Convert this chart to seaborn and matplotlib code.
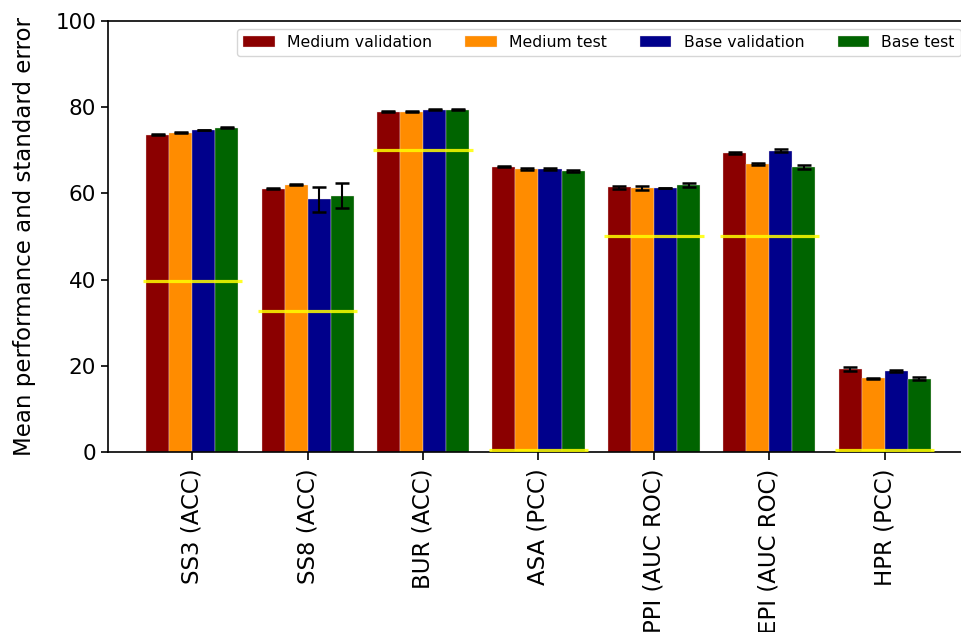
import matplotlib
matplotlib.use("Agg")
import matplotlib.pyplot as plt
import seaborn as sns
import pandas as pd
import numpy as np

tasks = ["SS3 (ACC)", "SS8 (ACC)", "BUR (ACC)", "ASA (PCC)",
         "PPI (AUC ROC)", "EPI (AUC ROC)", "HPR (PCC)"]
models = ["Medium validation", "Medium test", "Base validation", "Base test"]
colors = ["#8b0000", "#ff8c00", "#00008b", "#006400"]

medium_val = [73.6, 61.1, 79.0, 66.2, 61.4, 69.4, 19.3]
medium_test = [74.1, 62.0, 79.0, 65.7, 61.2, 66.8, 17.1]
base_val = [74.7, 58.6, 79.4, 65.7, 61.3, 69.9, 18.8]
base_test = [75.2, 59.4, 79.4, 65.2, 61.9, 66.2, 17.0]

medium_val_err = [0.1, 0.1, 0.1, 0.1, 0.3, 0.3, 0.4]
medium_test_err = [0.1, 0.1, 0.1, 0.3, 0.5, 0.2, 0.1]
base_val_err = [0.1, 2.9, 0.1, 0.3, 0.05, 0.3, 0.2]
base_test_err = [0.1, 2.9, 0.1, 0.3, 0.5, 0.5, 0.4]

baselines = [39.7, 32.8, 70.0, 0.4, 50.2, 50.2, 0.4]

values = [medium_val, medium_test, base_val, base_test]
errors = [medium_val_err, medium_test_err, base_val_err, base_test_err]

df = pd.DataFrame({
    "task": tasks * len(models),
    "model": [m for m in models for _ in tasks],
    "score": np.concatenate(values),
})

fig = plt.figure(figsize=(9.61, 6.32), dpi=100)
ax = fig.add_axes([108 / 961, 180 / 632, 861 / 961, 431 / 632])

sns.barplot(data=df, x="task", y="score", hue="model", order=tasks,
            hue_order=models, palette=colors, saturation=1, width=0.8,
            errorbar=None, edgecolor="#f0e0e0", linewidth=0.25, ax=ax)

# error bars on top of each bar
for cont, err in zip(ax.containers, errors):
    xs = [b.get_x() + b.get_width() / 2 for b in cont]
    hs = [b.get_height() for b in cont]
    ax.errorbar(xs, hs, yerr=err, fmt="none", ecolor="black",
                elinewidth=1.5, capsize=5, capthick=1.8, zorder=3)

# baseline (yellow) per task
pos = np.arange(len(tasks))
ax.hlines(baselines, pos - 0.43, pos + 0.43, colors="#ffff00",
          linewidth=2.3, alpha=0.85, zorder=4)

ax.set_xlim(-0.73, 6.73)
ax.set_ylim(0, 100)
ax.set_xlabel("")
ax.set_ylabel("Mean performance and standard error", fontsize=16.5,
              labelpad=14)
ax.tick_params(axis="both", labelsize=15.5, length=5, width=1.2)
ax.tick_params(axis="x", rotation=90, labelsize=16.5, length=6, pad=6)
for s in ax.spines.values():
    s.set_linewidth(1.2)

sns.move_legend(ax, "upper right", ncol=4, title=None, fontsize=11.3,
                frameon=True, handlelength=2.0, columnspacing=2.1)

fig.savefig("out.png", dpi=100)
